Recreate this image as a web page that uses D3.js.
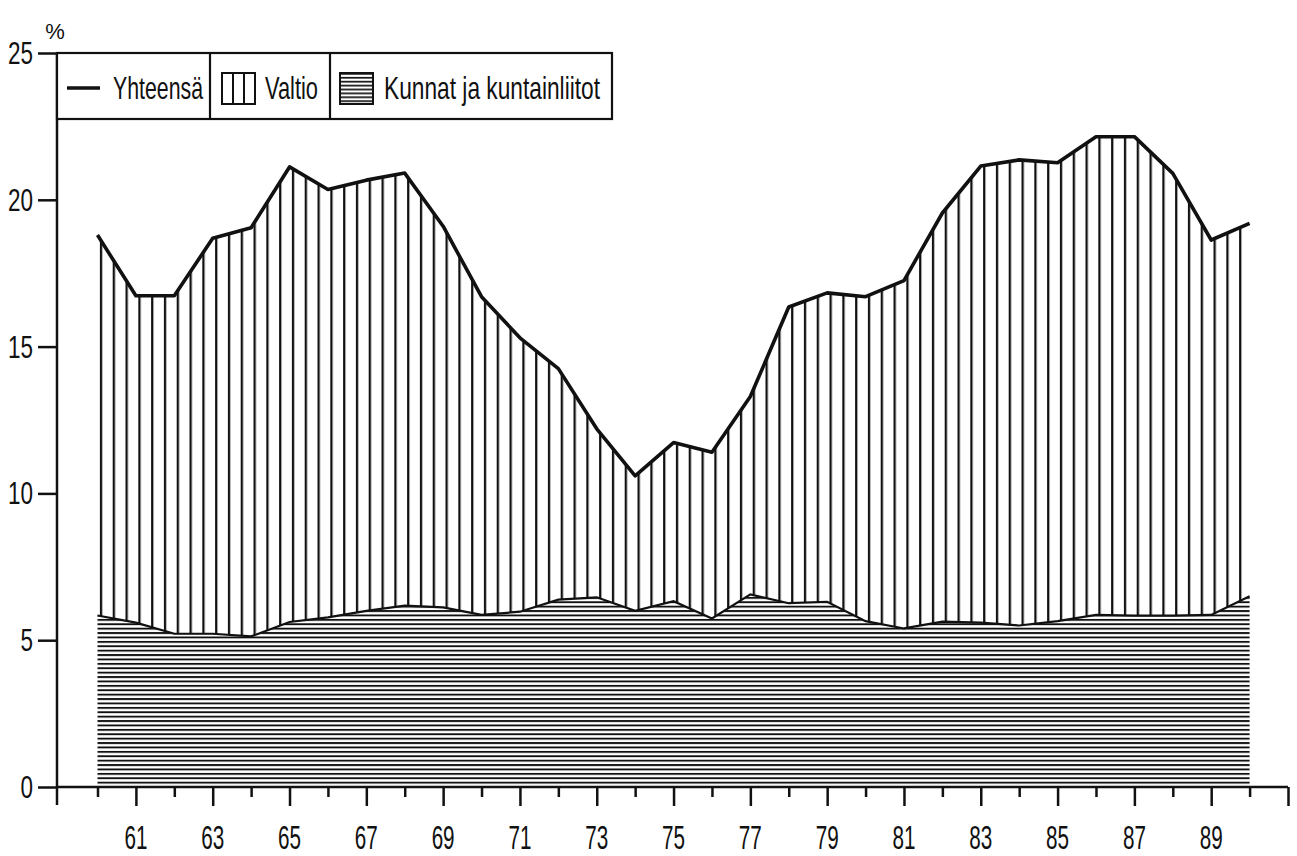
<!DOCTYPE html>
<html>
<head>
<meta charset="utf-8">
<script src="https://cdn.jsdelivr.net/npm/d3@7/dist/d3.min.js"></script>
<style>
  html, body { margin: 0; padding: 0; background: #fff; }
  svg { display: block; }
  text { font-family: "Liberation Sans Narrow", "Liberation Sans", Arial, sans-serif; fill: #111; }
</style>
</head>
<body>
<svg id="chart" width="1297" height="856"></svg>
<script>
// ---- data ----
const years = [1960,1961,1962,1963,1964,1965,1966,1967,1968,1969,
               1970,1971,1972,1973,1974,1975,1976,1977,1978,1979,
               1980,1981,1982,1983,1984,1985,1986,1987,1988,1989,1990];
// Yhteensä (total, %)
const yhteensa = [18.8,16.73,16.73,18.69,19.05,21.12,20.35,20.67,20.91,19.1,
                  16.7,15.3,14.25,12.2,10.6,11.73,11.4,13.3,16.35,16.83,
                  16.7,17.25,19.55,21.15,21.36,21.26,22.15,22.15,20.9,18.63,19.2];
// Kunnat ja kuntainliitot (bottom layer, %)
const kunnat = [5.84,5.6,5.22,5.22,5.13,5.62,5.78,6.0,6.18,6.12,
                5.86,5.97,6.38,6.46,6.0,6.33,5.74,6.56,6.26,6.31,
                5.65,5.4,5.63,5.6,5.5,5.65,5.86,5.84,5.84,5.86,6.5];
const yTicks = [0,5,10,15,20,25];
const xMajorTicks = [1961,1963,1965,1967,1969,1971,1973,1975,1977,1979,1981,1983,1985,1987,1989,1991];
const xMinorTicks = [1960,1962,1964,1966,1968,1970,1972,1974,1976,1978,1980,1982,1984,1986,1988,1990];
const xLabels = ["61","63","65","67","69","71","73","75","77","79","81","83","85","87","89"];
const legendLabels = ["Yhteensä","Valtio","Kunnat ja kuntainliitot"];
const unitLabel = "%";

// ---- layout ----
const svg = d3.select("#chart");
svg.append("rect").attr("width",1297).attr("height",856).attr("fill","#fff");

const axisX = 57;
const x = d3.scaleLinear().domain([1960, 1991]).range([97.5, 1288]);
const y = d3.scaleLinear().domain([0, 25]).range([787, 53]);

const rows = years.map((yr,i) => ({year: yr, k: kunnat[i], t: yhteensa[i]}));

// patterns
const defs = svg.append("defs");
const hp = defs.append("pattern").attr("id","hhatch").attr("patternUnits","userSpaceOnUse")
  .attr("x",0).attr("y",y(0) - 0.9).attr("width",20).attr("height",4.4);
hp.append("rect").attr("x",0).attr("y",0).attr("width",20).attr("height",1.9).attr("fill","#111");

const vp = defs.append("pattern").attr("id","vhatch").attr("patternUnits","userSpaceOnUse")
  .attr("x",x(1960)+3.5-1.1).attr("y",0).attr("width",38.4/3).attr("height",20);
vp.append("rect").attr("x",0).attr("y",0).attr("width",2.3).attr("height",20).attr("fill","#111");

const hpl = defs.append("pattern").attr("id","hhatchL").attr("patternUnits","userSpaceOnUse")
  .attr("x",0).attr("y",73).attr("width",20).attr("height",3.9);
hpl.append("rect").attr("x",0).attr("y",0).attr("width",20).attr("height",1.7).attr("fill","#111");

// areas
const areaK = d3.area().x(d=>x(d.year)).y0(y(0)).y1(d=>y(d.k));
const areaV = d3.area().x(d=>x(d.year)).y0(d=>y(d.k)).y1(d=>y(d.t));
svg.append("path").datum(rows).attr("d",areaK).attr("fill","url(#hhatch)");
svg.append("path").datum(rows).attr("d",areaV).attr("fill","url(#vhatch)");

// boundary lines
svg.append("path").datum(rows)
  .attr("d", d3.line().x(d=>x(d.year)).y(d=>y(d.k)))
  .attr("fill","none").attr("stroke","#111").attr("stroke-width",2.2);
svg.append("path").datum(rows)
  .attr("d", d3.line().x(d=>x(d.year)).y(d=>y(d.t)))
  .attr("fill","none").attr("stroke","#111").attr("stroke-width",3.6).attr("stroke-linejoin","round");

// ---- x axis ----
const gx = svg.append("g").attr("transform",`translate(0,${y(0)})`);
gx.append("line").attr("x1",axisX).attr("x2",x(1991)).attr("y1",0).attr("y2",0)
  .attr("stroke","#111").attr("stroke-width",2.5);
const majorAxis = d3.axisBottom(x).tickValues(xMajorTicks).tickSize(19).tickSizeOuter(0).tickFormat("");
const minorAxis = d3.axisBottom(x).tickValues(xMinorTicks).tickSize(10).tickSizeOuter(0).tickFormat("");
const gMaj = gx.append("g").call(majorAxis);
const gMin = gx.append("g").call(minorAxis);
[gMaj,gMin].forEach(g => {
  g.select(".domain").remove();
  g.selectAll(".tick line").attr("stroke","#111").attr("stroke-width",2.5);
});
gx.selectAll("text.xl").data(xLabels).enter().append("text")
  .attr("class","xl")
  .attr("x",(d,i)=>x(xMajorTicks[i]))
  .attr("y",62)
  .attr("text-anchor","middle")
  .attr("font-size",33)
  .attr("textLength",23).attr("lengthAdjust","spacingAndGlyphs")
  .text(d=>d);

// ---- y axis ----
svg.append("line").attr("x1",axisX).attr("x2",axisX).attr("y1",y(25)).attr("y2",y(0)+18)
  .attr("stroke","#111").attr("stroke-width",2.5);
const gy = svg.append("g").attr("transform",`translate(${axisX},0)`);
const yAxis = d3.axisLeft(y).tickValues(yTicks).tickSize(19).tickSizeOuter(0).tickFormat("");
gy.call(yAxis);
gy.select(".domain").remove();
gy.selectAll(".tick line").attr("stroke","#111").attr("stroke-width",2.5);
svg.selectAll("text.yl").data(yTicks).enter().append("text")
  .attr("class","yl")
  .attr("x",33)
  .attr("y",d=>y(d)+11)
  .attr("text-anchor","end")
  .attr("font-size",31)
  .attr("textLength",d=>String(d).length*12.5).attr("lengthAdjust","spacingAndGlyphs")
  .text(d=>d);
svg.append("text").attr("x",55).attr("y",39).attr("text-anchor","middle")
  .attr("font-size",22).text(unitLabel);

// ---- legend ----
const lg = svg.append("g");
const lTop = y(25), lBot = 119;
lg.append("rect").attr("x",axisX).attr("y",lTop).attr("width",612-axisX).attr("height",lBot-lTop)
  .attr("fill","#fff").attr("stroke","#111").attr("stroke-width",2.2);
[210,330].forEach(xx => lg.append("line").attr("x1",xx).attr("x2",xx).attr("y1",lTop).attr("y2",lBot)
  .attr("stroke","#111").attr("stroke-width",2.2));
// line sample
lg.append("line").attr("x1",67).attr("x2",100).attr("y1",88).attr("y2",88)
  .attr("stroke","#111").attr("stroke-width",3.5);
// vertical swatch
lg.append("rect").attr("x",222).attr("y",73).attr("width",33).attr("height",31)
  .attr("fill","#fff").attr("stroke","#111").attr("stroke-width",2);
[233,244].forEach(xx => lg.append("line").attr("x1",xx).attr("x2",xx).attr("y1",73).attr("y2",104)
  .attr("stroke","#111").attr("stroke-width",2));
// horizontal swatch
lg.append("rect").attr("x",340).attr("y",73).attr("width",33).attr("height",31)
  .attr("fill","url(#hhatchL)").attr("stroke","#111").attr("stroke-width",2);

const legendPos = [{x:113, w:90},{x:265, w:53},{x:384, w:216}];
lg.selectAll("text.lt").data(legendLabels).enter().append("text")
  .attr("class","lt")
  .attr("x",(d,i)=>legendPos[i].x)
  .attr("y",99)
  .attr("font-size",32)
  .attr("textLength",(d,i)=>legendPos[i].w).attr("lengthAdjust","spacingAndGlyphs")
  .text(d=>d);
</script>
</body>
</html>
